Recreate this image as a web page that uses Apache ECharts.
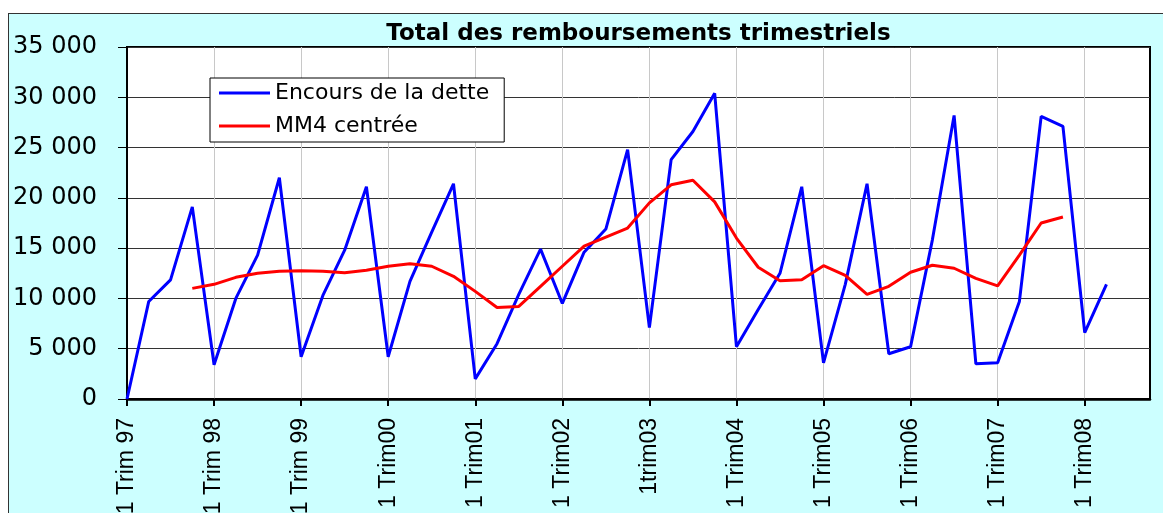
<!DOCTYPE html>
<html>
<head>
<meta charset="utf-8">
<title>Total des remboursements trimestriels</title>
<script src="https://cdn.jsdelivr.net/npm/echarts@6/dist/echarts.min.js"></script>
<style>
  html, body { margin: 0; padding: 0; background: #ffffff; overflow: hidden; }
  #frame {
    position: absolute; left: 8px; top: 13px; width: 1170px; height: 520px;
    background: #ccffff; border: 1px solid #333333; box-sizing: border-box;
  }
  #chart { position: absolute; left: 0; top: 0; width: 1163px; height: 513px; }
</style>
</head>
<body>
<div id="frame"></div>
<div id="chart"></div>
<script>
// Quarters from 1997 Q1 to 2008 Q4 (only the first quarter of each year is labelled)
const categories = [
  '1 Trim 97', '2 Trim 97', '3 Trim 97', '4 Trim 97',
  '1 Trim 98', '2 Trim 98', '3 Trim 98', '4 Trim 98',
  '1 Trim 99', '2 Trim 99', '3 Trim 99', '4 Trim 99',
  '1 Trim00', '2 Trim00', '3 Trim00', '4 Trim00',
  '1 Trim01', '2 Trim01', '3 Trim01', '4 Trim01',
  '1 Trim02', '2 Trim02', '3 Trim02', '4 Trim02',
  '1trim03', '2trim03', '3trim03', '4trim03',
  '1 Trim04', '2 Trim04', '3 Trim04', '4 Trim04',
  '1 Trim05', '2 Trim05', '3 Trim05', '4 Trim05',
  '1 Trim06', '2 Trim06', '3 Trim06', '4 Trim06',
  '1 Trim07', '2 Trim07', '3 Trim07', '4 Trim07',
  '1 Trim08', '2 Trim08', '3 Trim08', '4 Trim08'
];

// Quarterly repayments
const encours = [
  0, 9700, 11850, 19100,
  3400, 10000, 14300, 22000,
  4200, 10300, 14800, 21100,
  4200, 11700, 16600, 21400,
  2000, 5500, 10400, 14900,
  9500, 14600, 16900, 24800,
  7100, 23800, 26600, 30400,
  5200, 8900, 12500, 21100,
  3600, 11400, 21400, 4500,
  5200, 15800, 28200, 3500,
  3600, 9700, 28100, 27100,
  6600, 11400, null, null
];

// Centred 4-quarter moving average
const mm4 = [
  null, null, null, 11000,
  11400, 12100, 12500, 12700,
  12750, 12700, 12550, 12800,
  13200, 13450, 13200, 12200,
  10700, 9100, 9200, 11200,
  13200, 15200, 16100, 17000,
  19500, 21300, 21750, 19600,
  16000, 13100, 11750, 11850,
  13250, 12300, 10400, 11200,
  12600, 13300, 13000, 12000,
  11250, 14300, 17500, 18100,
  null, null, null, null
];

const seriesNames = ['Encours de la dette', 'MM4 centrée'];
const titleText = 'Total des remboursements trimestriels';

const chart = echarts.init(document.getElementById('chart'), null, { renderer: 'canvas' });

const wide = 'DejaVu Sans';
const narrow = 'Liberation Sans';

chart.setOption({
  backgroundColor: 'transparent',
  animation: false,
  graphic: [{
    type: 'text',
    x: 638.5,
    y: 34,
    style: {
      text: titleText,
      fontFamily: wide,
      fontWeight: 'bold',
      fontSize: 23,
      fill: '#000000',
      align: 'center',
      verticalAlign: 'middle'
    }
  }],
  legend: {
    orient: 'vertical',
    left: 210,
    top: 78,
    padding: [4, 15, 5, 9],
    itemGap: 11,
    itemWidth: 51,
    itemHeight: 3,
    icon: 'rect',
    backgroundColor: '#ffffff',
    borderColor: '#000000',
    borderWidth: 1,
    borderRadius: 0,
    textStyle: { fontFamily: wide, fontSize: 22, color: '#000000', lineHeight: 22 },
    data: seriesNames
  },
  grid: {
    left: 127,
    top: 47,
    right: 13,
    bottom: 114,
    show: true,
    backgroundColor: '#ffffff',
    borderColor: '#000000',
    borderWidth: 2,
    containLabel: false,
    outerBoundsMode: 'none'
  },
  xAxis: {
    type: 'category',
    data: categories,
    boundaryGap: false,
    axisLine: { lineStyle: { color: '#000000', width: 2.5 } },
    axisTick: { show: true, interval: 3, length: 7, lineStyle: { color: '#000000', width: 2 } },
    axisLabel: {
      interval: 3,
      rotate: 90,
      margin: 19,
      padding: [0, 0, 10, 0],
      fontFamily: narrow,
      fontSize: 23,
      color: '#000000'
    },
    splitLine: { show: true, interval: 3, lineStyle: { color: '#c8c8c8', width: 1 } }
  },
  yAxis: {
    type: 'value',
    min: 0,
    max: 35000,
    interval: 5000,
    axisLine: { show: true, lineStyle: { color: '#000000', width: 2 } },
    axisTick: { show: true, length: 9, lineStyle: { color: '#000000', width: 1 } },
    axisLabel: {
      margin: 30,
      fontFamily: wide,
      fontSize: 24,
      color: '#000000',
      formatter: v => String(v).replace(/\B(?=(\d{3})+(?!\d))/g, ' ')
    },
    splitLine: { show: true, lineStyle: { color: '#333333', width: 1 } }
  },
  series: [
    {
      name: seriesNames[0],
      type: 'line',
      data: encours,
      symbol: 'none',
      lineStyle: { color: '#0000ff', width: 3 },
      itemStyle: { color: '#0000ff' },
      z: 3
    },
    {
      name: seriesNames[1],
      type: 'line',
      data: mm4,
      symbol: 'none',
      lineStyle: { color: '#ff0000', width: 3 },
      itemStyle: { color: '#ff0000' },
      z: 4
    }
  ]
});
</script>
</body>
</html>
